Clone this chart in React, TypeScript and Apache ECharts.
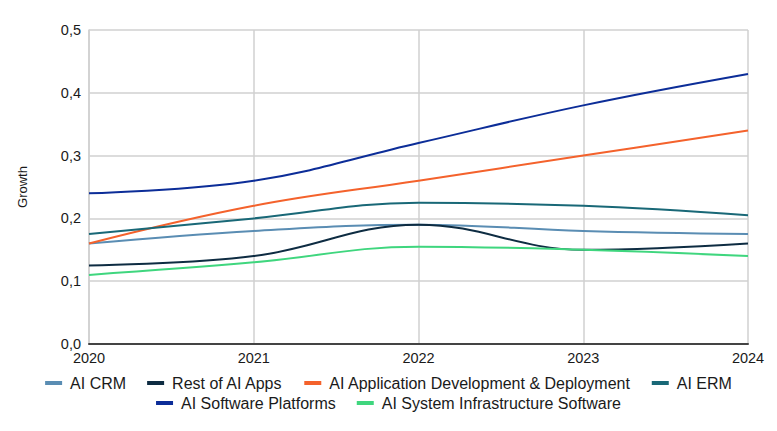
import React, { useEffect, useRef } from "react";
import * as echarts from "echarts";

const years = ["2020", "2021", "2022", "2023", "2024"];
const aiCrm = [0.16, 0.18, 0.19, 0.18, 0.175];
const restOfAiApps = [0.125, 0.14, 0.19, 0.15, 0.16];
const aiAppDev = [0.16, 0.22, 0.26, 0.30, 0.34];
const aiErm = [0.175, 0.20, 0.225, 0.22, 0.205];
const aiSoftwarePlatforms = [0.24, 0.26, 0.32, 0.38, 0.43];
const aiSystemInfra = [0.11, 0.13, 0.155, 0.15, 0.14];

const seriesDefs = [
  { name: "AI CRM", data: aiCrm, color: "#5a8db3" },
  { name: "Rest of AI Apps", data: restOfAiApps, color: "#0e2c42" },
  { name: "AI Application Development & Deployment", data: aiAppDev, color: "#f4622c" },
  { name: "AI ERM", data: aiErm, color: "#196877" },
  { name: "AI Software Platforms", data: aiSoftwarePlatforms, color: "#0c2d98" },
  { name: "AI System Infrastructure Software", data: aiSystemInfra, color: "#3fd67e" },
];

const legendRow1 = ["AI CRM", "Rest of AI Apps", "AI Application Development & Deployment", "AI ERM"];
const legendRow2 = ["AI Software Platforms", "AI System Infrastructure Software"];

export default function App() {
  const ref = useRef<HTMLDivElement>(null);
  useEffect(() => {
    if (!ref.current) return;
    const chart = echarts.init(ref.current, null, { renderer: "svg" });
    const font = "'Liberation Sans', Arial, sans-serif";
    const legendCommon = {
      left: "center",
      itemWidth: 17,
      itemHeight: 4,
      itemGap: 21,
      icon: "rect",
      textStyle: { fontFamily: font, fontSize: 16, color: "#1a1a1a", padding: [0, 0, 0, 3] },
    };
    chart.setOption({
      animation: false,
      grid: { left: 78, right: 21, top: 22, bottom: 79 },
      legend: [
        { ...legendCommon, top: 362, data: legendRow1 },
        { ...legendCommon, top: 382, data: legendRow2 },
      ],
      xAxis: {
        type: "category",
        data: years,
        boundaryGap: false,
        axisLine: { lineStyle: { color: "#444", width: 2 } },
        axisTick: { show: false },
        axisLabel: { fontFamily: font, fontSize: 14.5, color: "#1a1a1a", margin: 6 },
        splitLine: { show: true, lineStyle: { color: "#d0d0d0", width: 1.5 } },
      },
      yAxis: {
        type: "value",
        min: 0,
        max: 0.5,
        interval: 0.1,
        name: "Growth",
        nameLocation: "middle",
        nameGap: 60,
        nameTextStyle: { fontFamily: font, fontSize: 13, color: "#1a1a1a" },
        axisLine: { show: true, lineStyle: { color: "#d0d0d0", width: 1.5 } },
        axisTick: { show: false },
        axisLabel: {
          fontFamily: font,
          fontSize: 14.5,
          color: "#1a1a1a",
          margin: 8,
          formatter: (v: number) => v.toFixed(1).replace(".", ","),
        },
        splitLine: { show: true, lineStyle: { color: "#d0d0d0", width: 1.5 } },
      },
      series: seriesDefs.map((s) => ({
        name: s.name,
        type: "line",
        data: s.data,
        smooth: 0.4,
        showSymbol: false,
        symbol: "none",
        lineStyle: { color: s.color, width: 2 },
        itemStyle: { color: s.color },
      })),
    });
    return () => chart.dispose();
  }, []);
  return <div ref={ref} style={{ width: 761, height: 415 }} />;
}
